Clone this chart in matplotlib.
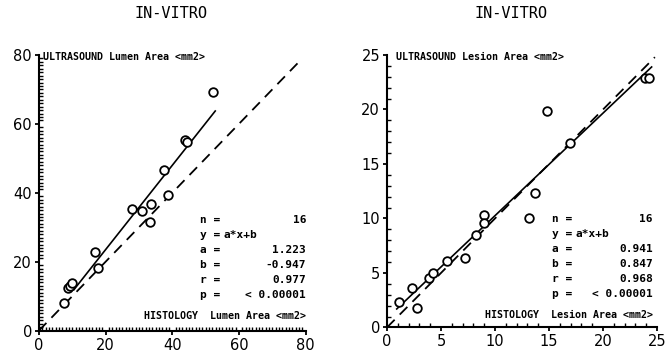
import matplotlib
matplotlib.use("Agg")
import matplotlib.pyplot as plt
import numpy as np

# lumen area, histology (x) vs ultrasound (y), mm2
lumen_hist = [7.4, 8.8, 9.4, 9.9, 16.9, 17.6, 28.0, 31.0, 33.7, 33.2, 37.4, 38.8, 43.7, 44.3, 52.2]
lumen_us = [7.9, 12.4, 13.1, 13.8, 22.8, 18.2, 35.4, 34.6, 36.8, 31.5, 46.6, 39.4, 55.2, 54.9, 69.4]
lumen_fit = {"n": 16, "a": 1.223, "b": -0.947, "r": 0.977, "p": "< 0.00001"}

# lesion area
lesion_hist = [1.1, 2.3, 2.8, 3.9, 4.3, 5.6, 7.2, 8.2, 9.0, 9.0, 13.1, 13.7, 14.8, 16.9, 23.9, 24.3]
lesion_us = [2.3, 3.6, 1.8, 4.5, 5.0, 6.1, 6.4, 8.5, 10.3, 9.6, 10.0, 12.3, 19.9, 16.9, 22.9, 22.9]
lesion_fit = {"n": 16, "a": 0.941, "b": 0.847, "r": 0.968, "p": "< 0.00001"}

W, H = 669, 359
fig = plt.figure(figsize=(W / 100, H / 100), dpi=100)
mono = "DejaVu Sans Mono"


def px(x, y):
    return x / W, 1 - y / H


def panel(rect, xs, ys, fit, lim, step, fit_rng, diag_end, yname, xname,
          title_x, top_pos, bot_pos, stat_pos):
    ax = fig.add_axes(rect)
    ax.set_xlim(0, lim)
    ax.set_ylim(0, lim)
    for s in ["top", "right"]:
        ax.spines[s].set_visible(False)
    for s in ["left", "bottom"]:
        ax.spines[s].set_linewidth(1.5)
    ax.set_xticks(np.arange(0, lim + 1, step))
    ax.set_yticks(np.arange(0, lim + 1, step))
    ax.set_xticks(np.arange(0, lim + 1, 1), minor=True)
    ax.set_yticks(np.arange(0, lim + 1, 1), minor=True)
    ax.tick_params(which="major", direction="out", length=3, width=1.3,
                   labelsize=10.5, pad=2)
    ax.tick_params(which="minor", direction="in", length=3, width=1.0)

    # line of identity
    ax.plot([0, diag_end], [0, diag_end], color="black", lw=1.3,
            dashes=(6, 4), clip_on=False)
    # regression y = a*x + b
    xr = np.array(fit_rng)
    ax.plot(xr, fit["a"] * xr + fit["b"], color="black", lw=1.2)
    ax.plot(xs, ys, "o", mfc="white", mec="black", ms=6.2, mew=1.3,
            clip_on=False, zorder=3)

    fig.text(*px(title_x, 14), "IN-VITRO", family=mono, fontsize=11,
             ha="center", va="center")
    fig.text(*px(*top_pos), yname, family=mono, fontsize=7.2,
             weight="bold", ha="left", va="center")
    fig.text(*px(*bot_pos), xname, family=mono, fontsize=7.2,
             weight="bold", ha="right", va="center")

    # fit summary block
    x0, x1, y0 = stat_pos
    labels = ["n", "y", "a", "b", "r", "p"]
    values = [str(fit["n"]), None, "%.3f" % fit["a"], "%.3f" % fit["b"],
              "%.3f" % fit["r"], fit["p"]]
    for i, (lab, val) in enumerate(zip(labels, values)):
        yy = y0 + i * 15
        fig.text(*px(x0, yy), lab + " =", family=mono, fontsize=8,
                 weight="bold", ha="left", va="center")
        if val is None:
            fig.text(*px(x0 + 23, yy), "a*x+b", family=mono, fontsize=8,
                     weight="bold", ha="left", va="center")
        else:
            fig.text(*px(x1, yy), val, family=mono, fontsize=8,
                     weight="bold", ha="right", va="center")
    return ax


panel([0.0581, 0.0788, 0.3987, 0.768], lumen_hist, lumen_us, lumen_fit,
      80, 20, (10.5, 52.9), 79, "ULTRASOUND Lumen Area <mm2>",
      "HISTOLOGY  Lumen Area <mm2>", 171, (43, 57), (306, 316), (200, 306, 220))

panel([0.5785, 0.0880, 0.4036, 0.7588], lesion_hist, lesion_us, lesion_fit,
      25, 5, (0.9, 24.5), 24.8, "ULTRASOUND Lesion Area <mm2>",
      "HISTOLOGY  Lesion Area <mm2>", 511, (396, 57), (653, 315), (552, 653, 219))

fig.savefig("out.png", dpi=100)
